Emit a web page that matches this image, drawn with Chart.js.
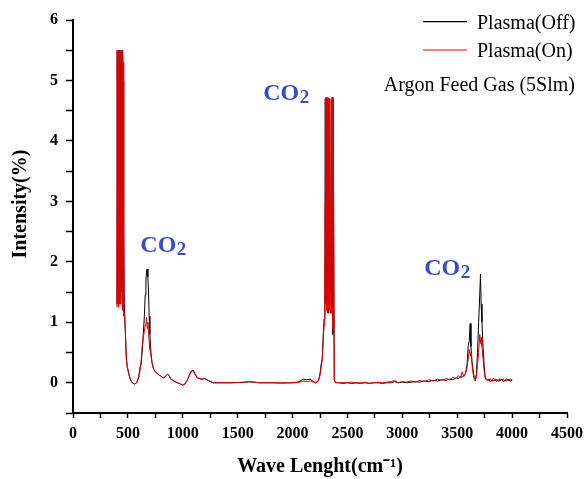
<!DOCTYPE html>
<html>
<head>
<meta charset="utf-8">
<script src="https://cdn.jsdelivr.net/npm/chart.js@4.4.1/dist/chart.umd.min.js"></script>
<style>
  html, body { margin: 0; padding: 0; background: #ffffff; }
  #wrap { width: 585px; height: 479px; }
</style>
</head>
<body>
<div id="wrap"><canvas id="c" width="585" height="479"></canvas></div>
<script>
// ---- Data ----
const wavenumbers = [
  400,403,406,409,412,415,418,421,424,427,430,433,436,439,442,445,448,451,454,457,460,463,466,
  470,476,486,496,506,522,540,560,580,598,610,620,630,640,650,658,664,670,676,682,688,694,700,
  710,720,735,750,765,780,800,820,840,860,875,890,920,950,980,1000,1020,1040,1060,1080,1095,1110,
  1130,1150,1170,1200,1220,1250,1280,1350,1450,1550,1600,1650,1700,1800,1900,2000,2050,2080,2100,
  2130,2160,2190,2210,2230,2240,2250,2260,2270,2280,2287,2294,
  2298,2301,2304,2307,2310,2313,2316,2319,2322,2325,2328,2331,2334,2337,2340,2344,2350,2355,2360,
  2364,2367,2370,2374,2380,
  2390,2420,2460,2500,2540,2580,2620,2660,2700,2740,2780,2820,2860,2900,2930,2960,3000,3040,3080,
  3120,3160,3200,3240,3280,3320,3360,3400,3430,3460,3490,3510,3530,3545,3560,3575,3590,3600,3610,
  3618,3625,3635,3645,3655,3665,3675,3685,3695,3705,3712,3718,3725,3735,3745,3755,3770,3785,3800,
  3815,3830,3845,3860,3875,3890,3905,3920,3935,3950,3965,3980,4000
];
const plasmaOff = [
  1.30,5.50,1.50,5.50,1.30,5.40,1.60,5.50,1.40,5.50,4.70,1.40,4.70,5.50,1.60,5.50,2.40,5.40,1.30,5.00,1.35,2.50,1.30,
  1.15,0.90,0.40,0.25,0.17,0.06,0.00,-0.02,0.00,0.10,0.25,0.30,0.50,0.80,1.10,1.45,1.70,1.85,1.88,1.75,1.50,1.10,0.80,
  0.50,0.33,0.22,0.18,0.16,0.13,0.11,0.08,0.10,0.14,0.12,0.06,0.03,0.00,-0.02,-0.04,-0.02,0.04,0.13,0.20,0.21,0.15,
  0.09,0.07,0.06,0.07,0.05,0.02,0.00,0.00,0.00,0.005,0.015,0.01,0.00,0.00,-0.005,0.00,0.01,0.04,0.06,
  0.05,0.06,0.02,0.00,0.02,0.06,0.15,0.30,0.40,0.80,1.05,1.50,
  4.70,1.40,4.70,1.40,4.70,1.50,4.68,1.40,4.70,1.50,4.70,1.40,4.65,1.30,4.70,1.50,1.70,1.25,4.70,
  4.70,0.80,4.70,4.70,0.05,
  0.00,0.00,-0.01,0.00,-0.01,0.00,-0.01,0.00,-0.01,0.00,0.00,-0.01,0.00,0.00,0.02,0.00,0.01,0.00,0.01,
  0.02,0.01,0.03,0.02,0.04,0.03,0.05,0.04,0.06,0.05,0.08,0.07,0.10,0.09,0.12,0.15,0.30,0.60,0.70,
  0.98,0.60,0.35,0.20,0.08,0.05,0.15,0.50,1.00,1.45,1.80,1.30,1.00,0.60,0.30,0.08,0.04,0.06,0.02,
  0.05,0.03,0.06,0.02,0.05,0.03,0.06,0.02,0.05,0.03,0.06,0.03,0.04
];
const plasmaOn = [
  1.25,5.50,1.30,5.50,1.25,5.50,1.30,5.50,1.30,5.50,4.75,1.30,4.75,5.45,1.50,5.50,1.30,5.50,1.20,5.30,1.10,1.15,1.12,
  1.10,0.88,0.38,0.25,0.16,0.05,0.00,-0.02,0.00,0.08,0.20,0.35,0.60,0.75,0.85,0.95,1.00,1.08,0.90,1.00,0.80,0.70,0.55,
  0.45,0.33,0.22,0.18,0.16,0.13,0.11,0.08,0.10,0.14,0.12,0.06,0.03,0.00,-0.02,-0.04,-0.02,0.04,0.12,0.19,0.20,0.14,
  0.08,0.07,0.06,0.07,0.05,0.02,0.00,0.00,0.00,0.01,0.02,0.01,0.00,0.00,0.00,0.00,0.005,0.02,0.03,
  0.02,0.03,0.01,0.00,0.02,0.06,0.12,0.25,0.38,0.70,0.95,1.30,
  3.00,1.30,4.72,1.20,4.72,1.20,4.70,1.15,4.72,1.20,4.70,1.15,4.70,1.20,4.70,1.20,1.15,1.20,4.72,
  4.72,0.90,4.72,4.72,0.05,
  0.01,0.00,0.00,0.00,0.01,-0.005,0.00,0.01,-0.01,0.00,0.01,0.00,0.01,0.02,0.04,0.00,0.02,0.01,0.03,
  0.01,0.04,0.02,0.05,0.03,0.06,0.04,0.07,0.05,0.09,0.07,0.12,0.08,0.18,0.10,0.16,0.25,0.40,0.55,
  0.45,0.50,0.30,0.15,0.05,0.03,0.10,0.30,0.50,0.80,0.65,0.75,0.60,0.40,0.20,0.08,0.06,0.03,0.07,
  0.02,0.08,0.03,0.06,0.02,0.07,0.04,0.06,0.02,0.07,0.03,0.06,0.05
];
const seriesNames = ['Plasma(Off)', 'Plasma(On)'];
const noteText = 'Argon Feed Gas (5Slm)';
const co2Labels = [ // anchor in data units: [wavenumber, intensity]
  [613, 2.155],
  [1733, 4.675],
  [3200, 1.787]
];
const xTickValues = [0, 500, 1000, 1500, 2000, 2500, 3000, 3500, 4000, 4500];
const yTickValues = [0, 1, 2, 3, 4, 5, 6];

const toPoints = (ys) => wavenumbers.map((x, i) => ({ x: x, y: ys[i] }));

const SERIF = '"Liberation Serif", "Times New Roman", serif';
const BLUE = '#3b4bc6';
const RED = '#e30000';

const overlayPlugin = {
  id: 'overlay',
  afterDraw(chart) {
    const ctx = chart.ctx;
    const xs = chart.scales.x, ys = chart.scales.y;
    ctx.save();
    // legend
    const items = [
      { name: seriesNames[0], color: '#000000', y: 21.7, base: 28.5 },
      { name: seriesNames[1], color: RED, y: 50, base: 56.8 }
    ];
    items.forEach(it => {
      ctx.strokeStyle = it.color;
      ctx.lineWidth = 1.2;
      ctx.beginPath();
      ctx.moveTo(423, it.y);
      ctx.lineTo(467, it.y);
      ctx.stroke();
      ctx.fillStyle = '#000';
      ctx.font = '20px ' + SERIF;
      ctx.textAlign = 'left';
      ctx.textBaseline = 'alphabetic';
      ctx.fillText(it.name, 477, it.base);
    });
    ctx.textAlign = 'right';
    ctx.fillText(noteText, 575, 90.7);
    // CO2 annotations
    co2Labels.forEach(([wx, wy]) => {
      const px = xs.getPixelForValue(wx);
      const py = ys.getPixelForValue(wy);
      ctx.fillStyle = BLUE;
      ctx.textAlign = 'left';
      ctx.textBaseline = 'alphabetic';
      ctx.font = 'bold 24px ' + SERIF;
      ctx.fillText('CO', px, py);
      const w = ctx.measureText('CO').width;
      ctx.font = 'bold 19px ' + SERIF;
      ctx.fillText('2', px + w + 0.5, py + 3);
    });
    ctx.restore();
  }
};

new Chart(document.getElementById('c'), {
  type: 'line',
  data: {
    datasets: [
      { label: seriesNames[0], data: toPoints(plasmaOff), borderColor: '#000000', backgroundColor: '#000000',
        borderWidth: 1, pointRadius: 0, tension: 0, order: 1 },
      { label: seriesNames[1], data: toPoints(plasmaOn), borderColor: RED, backgroundColor: RED,
        borderWidth: 1, pointRadius: 0, tension: 0, order: 0 }
    ]
  },
  options: {
    responsive: false,
    animation: false,
    devicePixelRatio: 1,
    layout: { padding: { left: 9, top: 20, right: 0, bottom: 0 } },
    plugins: { legend: { display: false }, tooltip: { enabled: false } },
    scales: {
      x: {
        type: 'linear', min: 0, max: 4500,
        afterFit: (s) => { s.height = 66; s.paddingRight = 18; s.paddingLeft = 0; },
        afterBuildTicks: (s) => {
          const t = [];
          for (let v = 0; v <= 4500; v += 250) t.push({ value: v });
          s.ticks = t;
        },
        ticks: {
          autoSkip: false, maxRotation: 0, padding: 6, color: '#000',
          font: { family: SERIF, size: 16, weight: 'bold' },
          callback: (v) => xTickValues.includes(v) ? String(v) : ''
        },
        grid: { drawOnChartArea: false, drawTicks: true, tickLength: 5, tickColor: '#000', tickWidth: 1.5 },
        border: { display: true, color: '#000', width: 2 },
        title: { display: true, text: 'Wave Lenght(cm⁻¹)', color: '#000',
          font: { family: SERIF, size: 20, weight: 'bold' }, padding: { top: 0, bottom: 0 } }
      },
      y: {
        type: 'linear', min: -0.5, max: 6,
        afterFit: (s) => { s.width = 64; s.paddingTop = 0; s.paddingBottom = 0; },
        afterBuildTicks: (s) => {
          const t = [];
          for (let v = -0.5; v <= 6.0001; v += 0.5) t.push({ value: Math.round(v * 10) / 10 });
          s.ticks = t;
        },
        ticks: {
          autoSkip: false, padding: 8, color: '#000',
          font: { family: SERIF, size: 16, weight: 'bold' },
          callback: (v) => yTickValues.includes(v) ? String(v) : ''
        },
        grid: { drawOnChartArea: false, drawTicks: true, tickLength: 7, tickColor: '#000', tickWidth: 1.5 },
        border: { display: true, color: '#000', width: 2 },
        title: { display: true, text: '     Intensity(%)', color: '#000',
          font: { family: SERIF, size: 20, weight: 'bold' }, padding: { top: 0, bottom: 0 } }
      }
    }
  },
  plugins: [overlayPlugin]
});
</script>
</body>
</html>
